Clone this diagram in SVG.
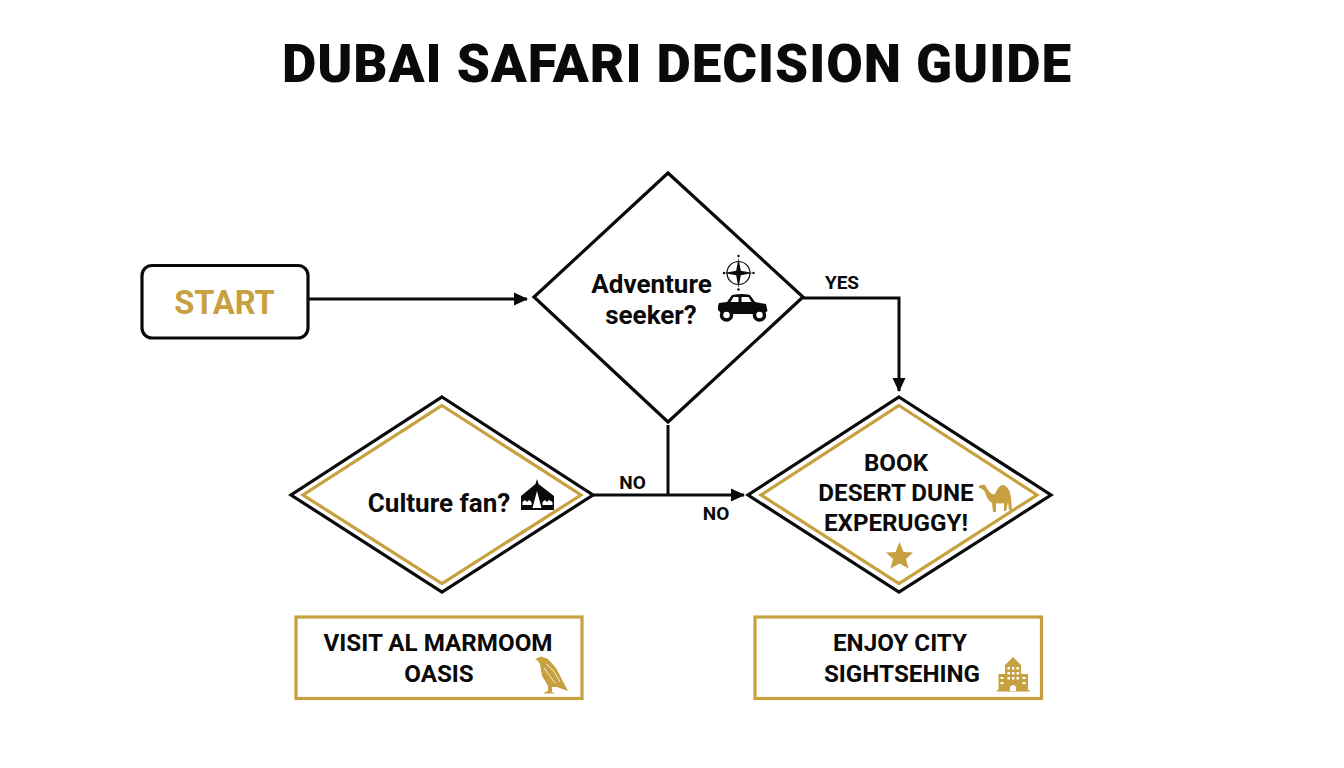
<svg xmlns="http://www.w3.org/2000/svg" width="1344" height="768" viewBox="0 0 1344 768">
<style>
text{font-family:Roboto,"Liberation Sans",sans-serif;font-weight:700;fill:#0a0a0a;text-anchor:middle}
.blk{fill:#fff;stroke:#0a0a0a;stroke-width:3.200;stroke-linejoin:miter}
.gold{fill:#fff;stroke:#c7a03f;stroke-width:3.200}
.in{fill:none;stroke:#c7a03f;stroke-width:3.200}
.ln{fill:none;stroke:#0a0a0a;stroke-width:3}
.q{font-size:26px}.c{font-size:24.200px}.t18{font-size:19px}
.gf{fill:#c7a03f}.bf{fill:#0a0a0a}.wf{fill:#fff}
</style>
<defs>
<marker id="arr" markerUnits="userSpaceOnUse" markerWidth="14" markerHeight="14" refX="13" refY="7" orient="auto"><path d="M0 0.500L14 7L0 13.500Z" fill="#0a0a0a"/></marker>
</defs>
<rect width="1344" height="768" fill="#fff"/>
<text x="677" y="82" font-size="53" style="font-weight:900;letter-spacing:0.950px" id="title">DUBAI SAFARI DECISION GUIDE</text>
<g id="connectors">
<path class="ln" d="M308 299H527" marker-end="url(#arr)"/>
<path class="ln" d="M803 298H899V391" marker-end="url(#arr)"/>
<path class="ln" d="M593 495H744" marker-end="url(#arr)"/>
<path class="ln" d="M668 425V495"/>
<text class="t18" x="842" y="289">YES</text>
<text class="t18" x="632.500" y="489">NO</text>
<text class="t18" x="716" y="520">NO</text>
</g>
<g id="start">
<rect class="blk" x="142" y="265.500" width="166" height="72.500" rx="10"/>
<text x="224.500" y="314" font-size="32.600" style="fill:#c7a03f">START</text>
</g>
<g id="adventure">
<path class="blk" d="M668 173L803 297L668 422L534 297Z"/>
<text class="q" x="651.500" y="293">Adventure</text>
<text class="q" x="651" y="324">seeker?</text>
<g id="compass">
<circle cx="738.500" cy="273" r="11.500" fill="none" stroke="#0a0a0a" stroke-width="1.200"/>
<path class="bf" d="M738.500 258L740.800 270.700L753 273L740.800 275.300L738.500 288L736.200 275.300L724 273L736.200 270.700Z"/>
<circle class="bf" cx="738.500" cy="256" r="1.200"/><circle class="bf" cx="738.500" cy="289.500" r="1.200"/>
<circle class="bf" cx="724" cy="273" r="1.200"/><circle class="bf" cx="753.500" cy="273" r="1.200"/>
</g>
<g id="car">
<path class="bf" d="M718 306L719 303L727 302L732 295Q742 293 750 295L755 302L766 304L767.500 311L763 314H722L718 310Z"/>
<path class="wf" d="M733.500 297H738.500V302H730.500ZM741.500 297H748.500L751.500 302H741.500Z"/>
<circle cx="726.500" cy="315" r="5" fill="#fff" stroke="#0a0a0a" stroke-width="3.500"/>
<circle cx="759.500" cy="315" r="5" fill="#fff" stroke="#0a0a0a" stroke-width="3.500"/>
</g>
</g>
<g id="culture">
<path class="blk" d="M442 397L593 495L442 592L291 495Z"/>
<path class="in" d="M442 405.500L581 495L442 583.500L303 495Z"/>
<text class="q" x="439" y="512">Culture fan?</text>
<g id="tent">
<path class="bf" d="M537 479L538.500 484L554 496V510H521V496L535.500 484Z"/>
<path class="wf" d="M537 491L541.500 508H532.500ZM522.500 505V502L525 500L527 502L529 500L531.500 502V505ZM542.500 505V502L545 500L547 502L549 500L552.500 502V505Z"/>
</g>
</g>
<g id="book">
<path class="blk" d="M899 397L1051 495L899 592L748 495Z"/>
<path class="in" d="M899 405.500L1037 495L899 583.500L761 495Z"/>
<text class="c" x="896" y="471">BOOK</text>
<text class="c" x="896" y="501">DESERT DUNE</text>
<text class="c" x="896" y="531">EXPERUGGY!</text>
<path class="gf" id="camel" d="M979 486Q982 484 985 485L988 490Q991 495 995 494Q999 484 1004 485Q1010 488 1011 498L1012 510H1009L1008 502L1006 511H1004L1004 503Q998 504 996 503L996 512H993L992 503Q987 500 985 492Q982 488 979 488Z"/>
<path class="gf" id="star" d="M899.500 542L903.500 552L913 552.500L906 559L908.500 568.500L899.500 563.500L890.500 568.500L893 559L886 552.500L895.500 552Z"/>
</g>
<g id="marmoom">
<rect class="gold" x="296" y="617" width="286" height="81.500"/>
<text class="c" x="438" y="651">VISIT AL MARMOOM</text>
<text class="c" x="439" y="682">OASIS</text>
<g id="falcon">
<path class="gf" d="M535 659L541 656.500L548 659L556 668L568 691L557 687L552 687L552 692L555 693.500H543L548 690.500L548 686L542 676L540 664L538 661Z"/>
<path d="M546 664Q553 668 560 682M544 668Q549 675 555 683" fill="none" stroke="#fff" stroke-width="0.800"/>
</g>
</g>
<g id="city">
<rect class="gold" x="755" y="617" width="286.500" height="81.500"/>
<text class="c" x="900" y="651">ENJOY CITY</text>
<text class="c" x="902" y="682">SIGHTSEHING</text>
<g id="building">
<path class="gf" d="M1005 665L1013 657L1021 665V674H1028V690H1029.500V691.500H997V690H998.500V674H1005Z"/>
<path class="wf" d="M1007.500 667h2.500v2.500h-2.500zM1012 667h2.500v2.500h-2.500zM1016.500 667h2.500v2.500h-2.500zM1007.500 672h2.500v2.500h-2.500zM1012 672h2.500v2.500h-2.500zM1016.500 672h2.500v2.500h-2.500zM1007.500 677h2.500v2.500h-2.500zM1012 677h2.500v2.500h-2.500zM1016.500 677h2.500v2.500h-2.500zM1000.500 677h3v2h-3zM1000.500 682h3v2h-3zM1022.500 677h3v2h-3zM1022.500 682h3v2h-3zM1010 691V687Q1013 683 1016 687V691Z"/>
</g>
</g>
</svg>
